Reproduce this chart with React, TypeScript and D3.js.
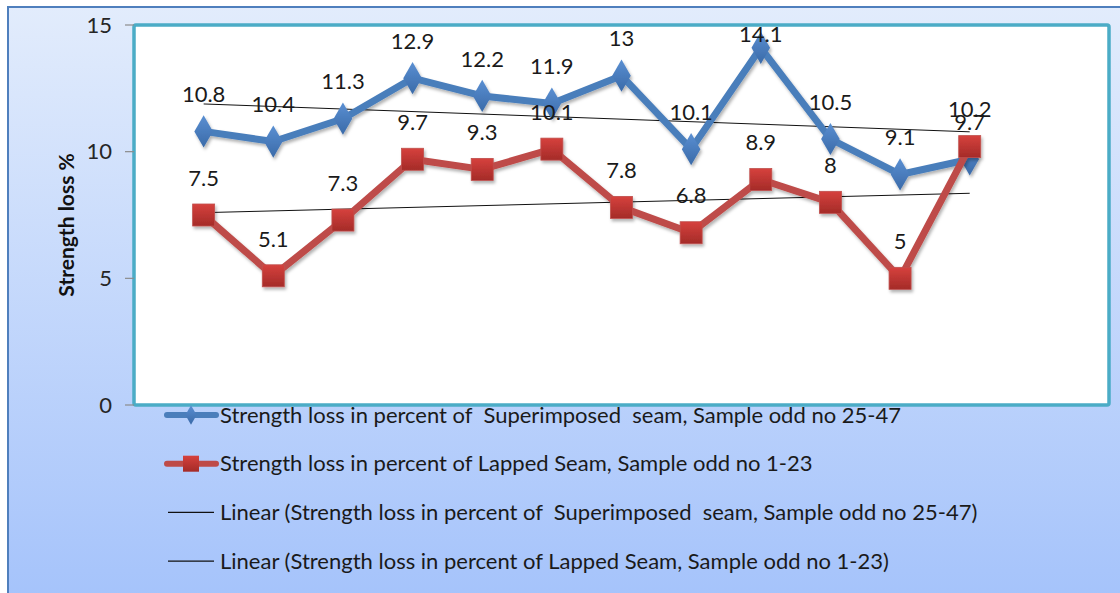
import { useMemo } from 'react'
import * as d3 from 'd3'

const W = 1120
const H = 593
const PLOT = { left: 134, top: 25, right: 1109, bottom: 405 }

const SAMPLES = [1, 2, 3, 4, 5, 6, 7, 8, 9, 10, 11, 12]
const SUPERIMPOSED = [10.8, 10.4, 11.3, 12.9, 12.2, 11.9, 13, 10.1, 14.1, 10.5, 9.1, 9.7]
const LAPPED = [7.5, 5.1, 7.3, 9.7, 9.3, 10.1, 7.8, 6.8, 8.9, 8, 5, 10.2]
const Y_TICKS = [0, 5, 10, 15]
const LEGEND = [
  'Strength loss in percent of  Superimposed  seam, Sample odd no 25-47',
  'Strength loss in percent of Lapped Seam, Sample odd no 1-23',
  'Linear (Strength loss in percent of  Superimposed  seam, Sample odd no 25-47)',
  'Linear (Strength loss in percent of Lapped Seam, Sample odd no 1-23)',
]

const FONT = 'Lato, "Open Sans", sans-serif'
const BLUE = '#4a7ebb'
const RED = '#be4b48'

function trend(values: number[]) {
  const mx = d3.mean(SAMPLES)!
  const my = d3.mean(values)!
  let sxy = 0
  let sxx = 0
  SAMPLES.forEach((x, i) => {
    sxy += (x - mx) * (values[i] - my)
    sxx += (x - mx) * (x - mx)
  })
  const slope = sxy / sxx
  return (x: number) => my + slope * (x - mx)
}

export default function App() {
  const x = d3.scaleLinear().domain([0, 14]).range([PLOT.left, PLOT.right])
  const y = d3.scaleLinear().domain([0, 15]).range([PLOT.bottom, PLOT.top])
  const line = d3
    .line<number>()
    .x((_d, i) => x(SAMPLES[i]))
    .y((d) => y(d))

  const trends = useMemo(() => [trend(SUPERIMPOSED), trend(LAPPED)], [])
  const first = SAMPLES[0]
  const last = SAMPLES[SAMPLES.length - 1]

  const diamond = d3.symbol(d3.symbolDiamond, 300)()
  const labelY = (v: number) => Math.max(y(v) - 37, 34)

  return (
    <svg width={W} height={H} style={{ position: 'absolute', left: 0, top: 0, background: '#fff' }}>
      <defs>
        <linearGradient id="bg" x1="0" y1="0" x2="0" y2="1">
          <stop offset="0" stopColor="#e2ecfc" />
          <stop offset="1" stopColor="#a5c3fb" />
        </linearGradient>
        <linearGradient id="dia" x1="0" y1="0" x2="0" y2="1">
          <stop offset="0" stopColor="#5a8fd2" />
          <stop offset="1" stopColor="#3a6aa8" />
        </linearGradient>
        <linearGradient id="sq" x1="0" y1="0" x2="0" y2="1">
          <stop offset="0" stopColor="#d6413d" />
          <stop offset="1" stopColor="#a42b28" />
        </linearGradient>
        <filter id="shadow" x="-20%" y="-20%" width="140%" height="140%">
          <feDropShadow dx="1.5" dy="2.5" stdDeviation="1.8" floodColor="#000" floodOpacity="0.3" />
        </filter>
      </defs>

      <rect x={8} y={7} width={W} height={H} fill="url(#bg)" stroke="#4f7fbd" strokeWidth={2} />

      <rect
        x={PLOT.left}
        y={PLOT.top}
        width={PLOT.right - PLOT.left}
        height={PLOT.bottom - PLOT.top}
        fill="#fff"
        stroke="#4bacc6"
        strokeWidth={3.5}
        rx={2}
      />

      {/* y axis */}
      {Y_TICKS.map((t) => (
        <g key={t}>
          <line x1={125} x2={PLOT.left} y1={y(t)} y2={y(t)} stroke="#8c8c8c" strokeWidth={1.2} />
          <text x={112} y={y(t)} dy="0.35em" textAnchor="end" fontFamily={FONT} fontSize={22} fill="#262626">
            {t}
          </text>
        </g>
      ))}
      <text
        transform={`translate(74,${(PLOT.top + PLOT.bottom) / 2 + 10}) rotate(-90)`}
        textAnchor="middle"
        fontFamily={FONT}
        fontWeight="bold"
        fontSize={21}
        fill="#111"
      >
        Strength loss %
      </text>

      {/* trendlines */}
      {trends.map((f, k) => (
        <line
          key={k}
          x1={x(first)}
          x2={x(last)}
          y1={y(f(first))}
          y2={y(f(last))}
          stroke="#111"
          strokeWidth={1}
        />
      ))}

      {/* superimposed series */}
      <g filter="url(#shadow)">
        <path d={line(SUPERIMPOSED)!} fill="none" stroke={BLUE} strokeWidth={7} strokeLinejoin="round" />
        {SUPERIMPOSED.map((v, i) => (
          <path key={i} d={diamond!} transform={`translate(${x(SAMPLES[i])},${y(v)})`} fill="url(#dia)" />
        ))}
      </g>

      {/* lapped series */}
      <g filter="url(#shadow)">
        <path d={line(LAPPED)!} fill="none" stroke={RED} strokeWidth={7} strokeLinejoin="round" />
        {LAPPED.map((v, i) => (
          <rect
            key={i}
            x={x(SAMPLES[i]) - 11}
            y={y(v) - 11}
            width={22}
            height={22}
            fill="url(#sq)"
            stroke="#c0504d"
            strokeWidth={0.8}
          />
        ))}
      </g>

      {/* data labels */}
      {SUPERIMPOSED.map((v, i) => (
        <text key={`s${i}`} x={x(SAMPLES[i])} y={labelY(v)} dy="0.35em" textAnchor="middle" fontFamily={FONT} fontSize={22} fill="#1a1a1a">
          {v}
        </text>
      ))}
      {LAPPED.map((v, i) => (
        <text key={`l${i}`} x={x(SAMPLES[i])} y={labelY(v)} dy="0.35em" textAnchor="middle" fontFamily={FONT} fontSize={22} fill="#1a1a1a">
          {v}
        </text>
      ))}

      {/* legend */}
      {LEGEND.map((label, k) => {
        const ly = 415 + k * 48.7
        return (
          <g key={k}>
            {k === 0 && (
              <g>
                <line x1={167} x2={216} y1={ly} y2={ly} stroke={BLUE} strokeWidth={6} strokeLinecap="round" />
                <path d={d3.symbol(d3.symbolDiamond, 110)()!} transform={`translate(191,${ly})`} fill="url(#dia)" />
              </g>
            )}
            {k === 1 && (
              <g>
                <line x1={167} x2={216} y1={ly} y2={ly} stroke={RED} strokeWidth={6} strokeLinecap="round" />
                <rect x={183} y={ly - 8} width={16} height={16} fill="url(#sq)" />
              </g>
            )}
            {k > 1 && <line x1={168} x2={214} y1={ly} y2={ly} stroke="#111" strokeWidth={1.2} />}
            <text
              x={220}
              y={ly}
              dy="0.35em"
              fontFamily={FONT}
              fontSize={22}
              fill="#1a1a1a"
              style={{ whiteSpace: 'pre' }}
            >
              {label}
            </text>
          </g>
        )
      })}
    </svg>
  )
}
